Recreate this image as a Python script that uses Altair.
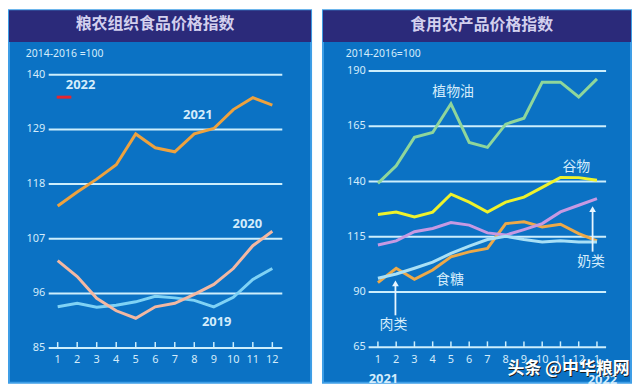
import altair as alt
import pandas as pd

# ---------------- data ----------------
months = list(range(1, 13))
ffpi_2019 = [93.3, 94.0, 93.2, 93.6, 94.3, 95.4, 95.1, 94.6, 93.3, 95.2, 98.8, 101.0]
ffpi_2020 = [102.6, 99.4, 95.0, 92.5, 91.0, 93.3, 94.0, 95.8, 97.8, 101.0, 105.6, 108.5]
ffpi_2021 = [113.6, 116.4, 119.0, 121.9, 128.1, 125.3, 124.5, 128.1, 129.2, 133.0, 135.4, 133.9]
ffpi_2022 = [135.5]
left_ticks = [85, 96, 107, 118, 129, 140]
left_xlabels = [str(m) for m in months]

months_r = list(range(1, 14))
right_xlabels = ["1", "2", "3", "4", "5", "6", "7", "8", "9", "10", "11", "12", "1"]
veg_oil = [139.2, 147.2, 160.0, 162.2, 175.2, 157.7, 155.5, 166.0, 168.7, 185.0, 185.0, 178.3, 186.5]
cereals = [125.1, 126.2, 124.0, 126.2, 134.3, 130.7, 126.2, 130.7, 133.0, 137.4, 141.9, 141.8, 140.6]
dairy = [111.3, 113.2, 117.3, 118.8, 121.5, 120.3, 116.8, 115.8, 118.3, 121.0, 126.3, 129.3, 132.3]
sugar = [94.3, 100.8, 95.8, 100.0, 106.0, 108.2, 109.8, 121.0, 121.8, 119.5, 120.7, 116.5, 113.2]
meat = [96.3, 98.2, 100.8, 103.6, 107.5, 110.8, 113.8, 115.3, 113.8, 112.7, 113.2, 112.7, 112.7]
right_ticks = [65, 90, 115, 140, 165, 190]

# ---------------- style ----------------
BLUE = "#0b72c4"
NAVY = "#2b2a7a"
GRID = "#cdeefc"
TXT = "#d4ecfb"
TITLE_TXT = "#d3d0ee"
CJK = "Noto Sans CJK SC"
NUM = "Noto Sans"
H = 375


def scales(xdom, ydom):
    xs = alt.Scale(domain=xdom, nice=False, zero=False)
    ys = alt.Scale(domain=ydom, nice=False, zero=False)
    X = lambda f: alt.X(f, type="quantitative", scale=xs, axis=None)
    Y = lambda f: alt.Y(f, type="quantitative", scale=ys, axis=None)
    return X, Y


def line_layer(X, Y, xs, ys, color, width=3):
    df = pd.DataFrame({"m": xs, "v": ys})
    return alt.Chart(df).mark_line(color=color, strokeWidth=width,
                                   strokeJoin="miter").encode(x=X("m"), y=Y("v"))


def text_layer(X, Y, rows, color=TXT, size=13, font=CJK, weight="normal", align="center", **kw):
    df = pd.DataFrame(rows, columns=["m", "v", "t"])
    return alt.Chart(df).mark_text(color=color, fontSize=size, font=font, fontWeight=weight,
                                   align=align, baseline="middle", **kw).encode(
        x=X("m"), y=Y("v"), text="t:N")


def frame(X, Y, xdom, ydom, bar_bottom, grid, gx0, gx1, tick_months, tick_h,
          ylab_x, ylabs, xlab_v, xlabs, title, title_m, title_v, unit_m, unit_v, unit_text):
    bar = alt.Chart(pd.DataFrame({"x0": [xdom[0]], "x1": [xdom[1]],
                                  "y0": [bar_bottom], "y1": [ydom[1]]})).mark_rect(
        color=NAVY).encode(x=X("x0"), x2="x1", y=Y("y0"), y2="y1")
    gdf = pd.DataFrame({"v": grid, "x0": gx0, "x1": gx1})
    grid_l = alt.Chart(gdf).mark_rule(color=GRID, strokeWidth=2).encode(
        x=X("x0"), x2="x1", y=Y("v"))
    tdf = pd.DataFrame({"m": tick_months, "y0": grid[0], "y1": grid[0] + tick_h})
    ticks = alt.Chart(tdf).mark_rule(color=GRID, strokeWidth=1.5).encode(
        x=X("m"), y=Y("y0"), y2="y1")
    yl = text_layer(X, Y, [(ylab_x, g, str(g)) for g in grid], size=11, font=NUM, align="right")
    xl = text_layer(X, Y, [(m, xlab_v, s) for m, s in zip(tick_months, xlabs)], size=11, font=NUM)
    tt = text_layer(X, Y, [(title_m, title_v, title)], color=TITLE_TXT, size=16, weight="bold")
    un = text_layer(X, Y, [(unit_m, unit_v, unit_text)], size=10.5, font=NUM, align="left")
    return [bar, grid_l, ticks, yl, xl, tt, un]


# ---------------- left panel ----------------
LX = [-1.495, 13.984]
LY = [78, 153]
X, Y = scales(LX, LY)
left_layers = frame(X, Y, LX, LY, 146.6, left_ticks, 0.54, 12.51, months, 1.2,
                    0.36, left_ticks, 82.6, left_xlabels,
                    "粮农组织食品价格指数", 5.99, 150.2, -0.63, 144.2, "2014-2016 =100")
left_layers += [
    line_layer(X, Y, months, ffpi_2019, "#7fd2f5"),
    line_layer(X, Y, months, ffpi_2020, "#f3b8a2"),
    line_layer(X, Y, months, ffpi_2021, "#eea23e"),
    alt.Chart(pd.DataFrame({"m": [0.95], "m2": [1.7], "v": ffpi_2022})).mark_rule(
        color="#e4262f", strokeWidth=3).encode(x=X("m"), x2="m2", y=Y("v")),
    text_layer(X, Y, [(2.17, 138.0, "2022"), (8.18, 132.0, "2021"),
                      (10.72, 110.0, "2020"), (9.15, 90.2, "2019")],
               size=13, font=NUM, weight="bold"),
]
left = alt.layer(*left_layers).properties(width=304, height=H)

# ---------------- right panel ----------------
RX = [-2.01, 14.865]
RY = [48.95, 217.56]
X, Y = scales(RX, RY)
right_layers = frame(X, Y, RX, RY, 203.2, right_ticks, 0.49, 13.5, months_r, 2.7,
                     0.33, right_ticks, 59.3, right_xlabels,
                     "食用农产品价格指数", 6.68, 211.0, -0.76, 197.8, "2014-2016=100")
right_layers += [
    line_layer(X, Y, months_r, sugar, "#eda948"),
    line_layer(X, Y, months_r, dairy, "#c699e3"),
    line_layer(X, Y, months_r, meat, "#a9e0f6"),
    line_layer(X, Y, months_r, cereals, "#eef22c"),
    line_layer(X, Y, months_r, veg_oil, "#8fd69b"),
]
# arrows
arrows = pd.DataFrame({"m": [1.96, 12.76], "v0": [79.5, 108.3], "v1": [93.0, 126.5],
                       "tip": [94.0, 127.5]})
right_layers += [
    alt.Chart(arrows).mark_rule(color="#e8f6ff", strokeWidth=1.8).encode(
        x=X("m"), y=Y("v0"), y2="v1"),
    alt.Chart(arrows).mark_point(shape="triangle-up", filled=True, size=45, opacity=1,
                                 color="#e8f6ff").encode(x=X("m"), y=Y("tip")),
    text_layer(X, Y, [(5.12, 180.7, "植物油"), (11.87, 146.5, "谷物"), (12.68, 103.4, "奶类"),
                      (4.95, 95.3, "食糖"), (1.85, 75.0, "肉类")], size=14),
    text_layer(X, Y, [(1.3, 50.6, "2021"), (13.3, 50.0, "2022")], size=13, font=NUM, weight="bold"),
    text_layer(X, Y, [(11.49, 54.7, "头条 @中华粮网")], color="#1a1a1a", size=17, weight="bold"),
    text_layer(X, Y, [(11.44, 55.2, "头条 @中华粮网")], color="#ffffff", size=17, weight="bold"),
]
right = alt.layer(*right_layers).properties(width=310, height=H)

chart = alt.hconcat(left, right, spacing=10).properties(padding=0).configure_view(
    fill=BLUE, stroke="#3f9ee6", strokeWidth=2)

chart.save("out.html", embed_options={"renderer": "svg", "actions": False})
